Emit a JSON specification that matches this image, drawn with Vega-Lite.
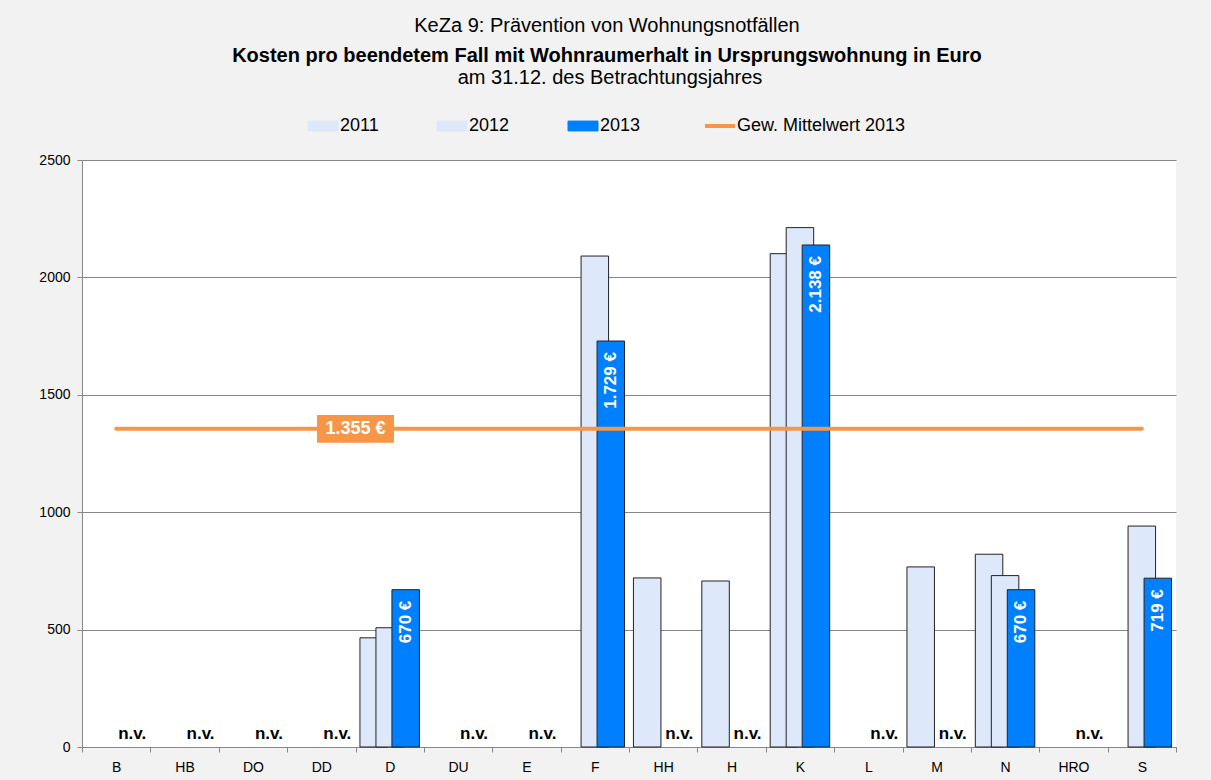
{
  "$schema": "https://vega.github.io/schema/vega-lite/v6.json",
  "width": 1094,
  "height": 587,
  "autosize": {"type": "none"},
  "padding": {"left": 82, "top": 160, "right": 35, "bottom": 33},
  "background": "#F2F2F2",
  "config": {
    "font": "Liberation Sans",
    "view": {"fill": "white", "stroke": null}
  },
  "title": {
    "text": "KeZa 9: Prävention von Wohnungsnotfällen",
    "subtitle": "Kosten pro beendetem Fall mit Wohnraumerhalt in Ursprungswohnung in Euro",
    "font": "Liberation Sans",
    "fontSize": 20,
    "fontWeight": "normal",
    "color": "black",
    "subtitleFont": "Liberation Sans",
    "subtitleFontSize": 20,
    "subtitleFontWeight": "bold",
    "subtitleColor": "black",
    "subtitlePadding": 10,
    "anchor": "middle",
    "dx": -22,
    "offset": 2
  },
  "datasets": {
    "bars": [
      {"cat": "D", "series": "2011", "value": 465, "label": ""},
      {"cat": "D", "series": "2012", "value": 508, "label": ""},
      {"cat": "D", "series": "2013", "value": 670, "label": "670 €"},
      {"cat": "F", "series": "2012", "value": 2091, "label": ""},
      {"cat": "F", "series": "2013", "value": 1729, "label": "1.729 €"},
      {"cat": "HH", "series": "2011", "value": 720, "label": ""},
      {"cat": "H", "series": "2011", "value": 707, "label": ""},
      {"cat": "K", "series": "2011", "value": 2101, "label": ""},
      {"cat": "K", "series": "2012", "value": 2212, "label": ""},
      {"cat": "K", "series": "2013", "value": 2138, "label": "2.138 €"},
      {"cat": "M", "series": "2011", "value": 767, "label": ""},
      {"cat": "N", "series": "2011", "value": 821, "label": ""},
      {"cat": "N", "series": "2012", "value": 730, "label": ""},
      {"cat": "N", "series": "2013", "value": 670, "label": "670 €"},
      {"cat": "S", "series": "2012", "value": 941, "label": ""},
      {"cat": "S", "series": "2013", "value": 719, "label": "719 €"}
    ],
    "nv": [
      {"cat": "B", "series": "2013", "value": 0, "label": "n.v."},
      {"cat": "HB", "series": "2013", "value": 0, "label": "n.v."},
      {"cat": "DO", "series": "2013", "value": 0, "label": "n.v."},
      {"cat": "DD", "series": "2013", "value": 0, "label": "n.v."},
      {"cat": "DU", "series": "2013", "value": 0, "label": "n.v."},
      {"cat": "E", "series": "2013", "value": 0, "label": "n.v."},
      {"cat": "HH", "series": "2013", "value": 0, "label": "n.v."},
      {"cat": "H", "series": "2013", "value": 0, "label": "n.v."},
      {"cat": "L", "series": "2013", "value": 0, "label": "n.v."},
      {"cat": "M", "series": "2013", "value": 0, "label": "n.v."},
      {"cat": "HRO", "series": "2013", "value": 0, "label": "n.v."}
    ],
    "mean": [
      {"cat": "B", "value": 1355, "series": "Gew. Mittelwert 2013"},
      {"cat": "S", "value": 1355, "series": "Gew. Mittelwert 2013"}
    ],
    "meanLabel": [
      {"cat": "DD", "value": 1355, "label": "1.355 €"}
    ]
  },
  "encoding": {
    "x": {
      "field": "cat",
      "type": "nominal",
      "sort": null,
      "scale": {"domain": ["B","HB","DO","DD","D","DU","E","F","HH","H","K","L","M","N","HRO","S"], "paddingInner": 0, "paddingOuter": 0},
      "axis": {
        "title": null,
        "labelAngle": 0,
        "tickBand": "extent",
        "domainColor": "#868686",
        "tickColor": "#868686",
        "tickSize": 5,
        "labelFontSize": 14,
        "labelColor": "black",
        "labelPadding": 8
      }
    },
    "y": {
      "field": "value",
      "type": "quantitative",
      "scale": {"domain": [0, 2500], "nice": false},
      "axis": {
        "title": null,
        "values": [0, 500, 1000, 1500, 2000, 2500],
        "format": "d",
        "grid": true,
        "gridColor": "#868686",
        "domainColor": "#868686",
        "tickColor": "#868686",
        "tickSize": 5,
        "labelFontSize": 14,
        "labelColor": "black",
        "labelPadding": 7
      }
    }
  },
  "layer": [
    {
      "data": {"name": "bars"},
      "mark": {"type": "bar", "width": 27.5, "stroke": "#222222", "strokeWidth": 1},
      "encoding": {
        "xOffset": {"field": "series", "type": "nominal", "scale": {"domain": ["2011","2012","2013"], "paddingInner": 0, "paddingOuter": 0.637}},
        "color": {
          "field": "series",
          "type": "nominal",
          "scale": {"domain": ["2011","2012","2013","Gew. Mittelwert 2013"], "range": ["#DEE8FB","#DEE8FB","#0080FF","#F79646"]},
          "legend": {
            "orient": "none",
            "legendX": 232,
            "legendY": -92,
            "direction": "horizontal",
            "title": "am 31.12. des Betrachtungsjahres",
            "titleOrient": "top",
            "titleAnchor": "middle",
            "titleFontSize": 20,
            "titleFontWeight": "normal",
            "titleColor": "black",
            "titleLimit": 1000,
            "titlePadding": 29,
            "labelFontSize": 18,
            "labelColor": "black",
            "labelLimit": 1000,
            "labelOffset": 8,
            "columnPadding": 56,
            "symbolSize": 900,
            "symbolType": "M-1,-0.33H1V0.33H-1Z",
            "symbolOpacity": 1,
            "symbolStrokeColor": "#222222",
            "symbolStrokeWidth": 1,
            "encode": {
              "symbols": {
                "update": {
                  "shape": {"signal": "datum.value === 'Gew. Mittelwert 2013' ? 'M-1,0H1' : 'M-1,-0.33H1V0.33H-1Z'"},
                  "fill": {"signal": "datum.value === 'Gew. Mittelwert 2013' ? 'transparent' : (datum.value === '2013' ? '#0080FF' : '#DEE8FB')"},
                  "stroke": {"signal": "datum.value === 'Gew. Mittelwert 2013' ? '#F79646' : '#222222'"},
                  "strokeWidth": {"signal": "datum.value === 'Gew. Mittelwert 2013' ? 4 : 1"}
                }
              }
            }
          }
        }
      }
    },
    {
      "data": {"name": "bars"},
      "transform": [{"filter": "datum.label !== ''"}],
      "mark": {"type": "text", "angle": 270, "align": "right", "baseline": "middle", "dx": -11, "fontSize": 17, "fontWeight": "bold", "color": "white"},
      "encoding": {
        "xOffset": {"field": "series", "type": "nominal"},
        "text": {"field": "label"}
      }
    },
    {
      "data": {"name": "nv"},
      "mark": {"type": "text", "align": "center", "baseline": "alphabetic", "dy": -8, "fontSize": 17, "fontWeight": "bold", "color": "black"},
      "encoding": {
        "xOffset": {"field": "series", "type": "nominal"},
        "text": {"field": "label"}
      }
    },
    {
      "data": {"name": "mean"},
      "mark": {"type": "line", "strokeWidth": 4, "strokeCap": "round"},
      "encoding": {
        "color": {"field": "series", "type": "nominal"}
      }
    },
    {
      "data": {"name": "meanLabel"},
      "mark": {"type": "point", "shape": "M-1,-0.36H1V0.36H-1Z", "size": 5929, "filled": true, "fill": "#F79646", "opacity": 1, "strokeWidth": 0},
      "encoding": {
        "x": {"field": "cat", "type": "nominal", "bandPosition": 1}
      }
    },
    {
      "data": {"name": "meanLabel"},
      "mark": {"type": "text", "align": "center", "baseline": "middle", "fontSize": 18, "fontWeight": "bold", "color": "white"},
      "encoding": {
        "x": {"field": "cat", "type": "nominal", "bandPosition": 1},
        "text": {"field": "label"}
      }
    }
  ]
}
